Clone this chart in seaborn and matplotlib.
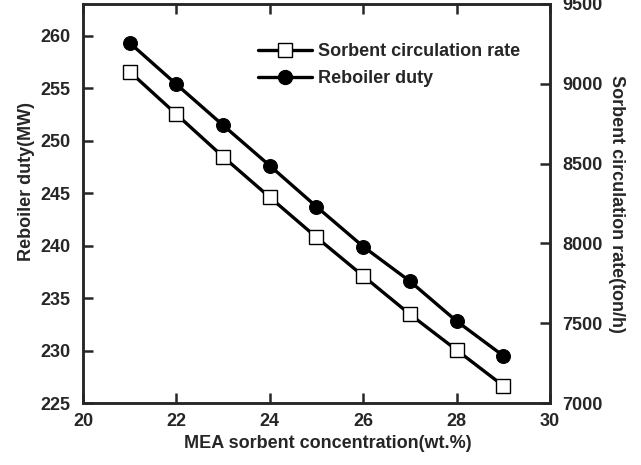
import pandas as pd
import matplotlib
import matplotlib.pyplot as plt
import seaborn as sns
from matplotlib.lines import Line2D

matplotlib.use('Agg')

# 数据
concentration = [21, 22, 23, 24, 25, 26, 27, 28, 29]
reboiler_duty = [259.3, 255.35, 251.45, 247.6, 243.7, 239.9, 236.6, 232.8, 229.5]
circulation_rate = [9076, 8809, 8543, 8289, 8038, 7796, 7556, 7332, 7108]

df = pd.DataFrame({
    'conc': concentration,
    'duty': reboiler_duty,
    'rate': circulation_rate,
})

sns.set_style('ticks')
plt.rcParams['font.family'] = ['Liberation Sans', 'DejaVu Sans']
plt.rcParams['font.weight'] = 'bold'
plt.rcParams['axes.labelweight'] = 'bold'

fs = 13
fig = plt.figure(figsize=(6.41, 4.65), dpi=100)
ax = fig.add_axes([0.1295, 0.1333, 0.7285, 0.8581])
ax2 = ax.twinx()

lw = 2.4
ms = 10
sns.lineplot(data=df, x='conc', y='duty', ax=ax, color='black', linewidth=lw,
             marker='o', markersize=ms, markerfacecolor='black',
             markeredgecolor='black')
sns.lineplot(data=df, x='conc', y='rate', ax=ax2, color='black', linewidth=lw,
             marker='s', markersize=ms, markerfacecolor='white',
             markeredgecolor='black', markeredgewidth=1.0)

ax.set_xlim(20, 30)
ax.set_ylim(225, 263)
ax2.set_ylim(7000, 9500)
ax.set_xticks([20, 22, 24, 26, 28, 30])
ax.set_yticks([225, 230, 235, 240, 245, 250, 255, 260])
ax2.set_yticks([7000, 7500, 8000, 8500, 9000, 9500])

ax.set_xlabel('MEA sorbent concentration(wt.%)', fontsize=fs, fontweight='bold')
ax.set_ylabel('Reboiler duty(MW)', fontsize=fs, fontweight='bold')
ax2.set_ylabel('Sorbent circulation rate(ton/h)', fontsize=fs, fontweight='bold',
               rotation=270, labelpad=16)
ax.xaxis.set_label_coords(0.525, -0.08)
ax.yaxis.set_label_coords(-0.1025, 0.554)

for a in (ax, ax2):
    for s in a.spines.values():
        s.set_linewidth(1.8)
        s.set_visible(True)
ax.tick_params(axis='x', direction='in', length=7, width=1.8, top=True,
               labelsize=fs, pad=7)
ax.tick_params(axis='y', direction='in', length=7, width=1.8, labelsize=fs, pad=9)
ax2.tick_params(axis='y', direction='in', length=7, width=1.8, labelsize=fs, pad=9)
for lab in ax.get_xticklabels() + ax.get_yticklabels() + ax2.get_yticklabels():
    lab.set_fontweight('bold')

handles = [
    Line2D([], [], color='black', linewidth=lw, marker='s', markersize=ms,
           markerfacecolor='white', markeredgecolor='black', markeredgewidth=1.0),
    Line2D([], [], color='black', linewidth=lw, marker='o', markersize=ms,
           markerfacecolor='black'),
]
ax2.legend(handles, ['Sorbent circulation rate', 'Reboiler duty'],
           loc='upper left', bbox_to_anchor=(0.375, 0.9025), frameon=False,
           borderaxespad=0, borderpad=0, handlelength=3.0, handletextpad=0.3,
           labelspacing=0.55, prop={'weight': 'bold', 'size': fs})

fig.savefig('out.png', dpi=100)
